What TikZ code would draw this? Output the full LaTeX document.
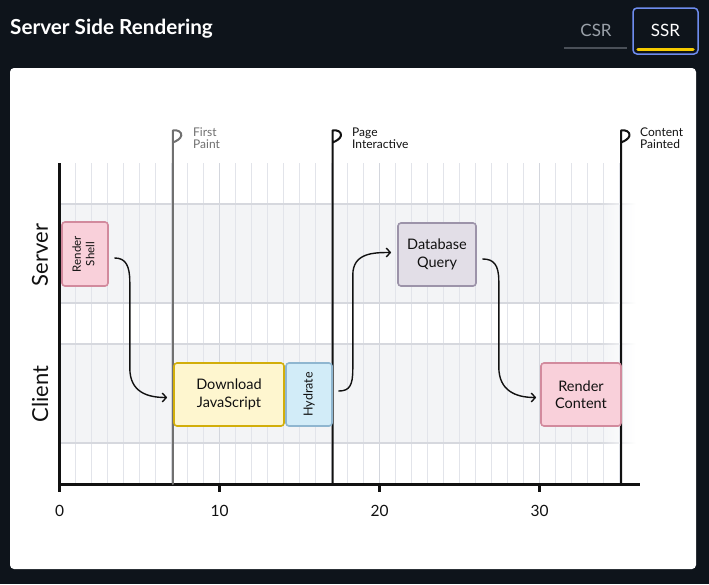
\documentclass[tikz,border=0pt]{standalone}
\usepackage{fontspec}
\setmainfont{Lato}
\usetikzlibrary{arrows.meta,calc}

\definecolor{bg}{HTML}{0E141B}
\definecolor{csrgray}{HTML}{9AA1A9}
\definecolor{csrline}{HTML}{4A5058}
\definecolor{tabblue}{HTML}{6E8CEE}
\definecolor{tabyellow}{HTML}{F5CB00}
\definecolor{gridc}{HTML}{E2E4EA}
\definecolor{gridm}{HTML}{D3D6DD}
\definecolor{bandf}{HTML}{F3F4F6}
\definecolor{bandl}{HTML}{D6D8DE}
\definecolor{ink}{HTML}{111111}
\definecolor{paintgray}{HTML}{707070}
\definecolor{pinkf}{HTML}{F9D0DA}
\definecolor{pinkd}{HTML}{D28A9D}
\definecolor{yelf}{HTML}{FEF6CF}
\definecolor{yeld}{HTML}{D2AE0A}
\definecolor{bluef}{HTML}{D2ECF8}
\definecolor{blued}{HTML}{8FB6D0}
\definecolor{lavf}{HTML}{E2DEE7}
\definecolor{lavd}{HTML}{9C93A9}

\tikzset{
  gridline/.style={draw=gridc, line width=0.8pt},
  gridmajor/.style={draw=gridm, line width=1.1pt},
  taskbox/.style={rounded corners=3pt, line width=1.6pt, inner sep=0pt,
    align=center, font=\fontsize{14.5}{17.5}\selectfont, text=ink},
  flagline/.style={line width=2pt, line join=round, line cap=round},
  flaglabel/.style={anchor=west, align=left, inner sep=0pt,
    font=\fontsize{12}{12}\selectfont},
  flow/.style={draw=ink, line width=1.4pt, line cap=round,
    -{Straight Barb[length=4pt,width=9pt,line width=1.4pt]}},
  rowlabel/.style={rotate=90, font=\fontsize{22}{26}\selectfont, text=ink},
  ticklabel/.style={font=\fontsize{15.5}{18}\selectfont, text=ink},
}

\begin{document}
\begin{tikzpicture}[x=1pt,y=-1pt]
\useasboundingbox (0,0) rectangle (709,584);
\fill[bg] (0,0) rectangle (709,584);

% header
\node[anchor=west, text=white, font=\fontsize{20.7}{24}\selectfont\bfseries, inner sep=0pt] (title) at (10,29) {Server Side Rendering};
\node[text=csrgray, font=\fontsize{17}{20}\selectfont, inner sep=0pt] (csr) at (596,30) {CSR};
\draw[csrline, line width=2pt] (564,48) -- (627,48);
\draw[tabblue, line width=1.5pt, rounded corners=4pt] (633,8) rectangle (698,54);
\node[text=white, font=\fontsize{17}{20}\selectfont, inner sep=0pt] (ssr) at (665.5,30) {SSR};
\draw[tabyellow, line width=3.5pt, line cap=round] (638,49.5) -- (693,49.5);

% panel
\fill[white, rounded corners=4pt] (10,68) rectangle (696,569);

% lane bands with a fade on the right
\foreach \top/\bot in {204/303, 344/443}{
  \fill[bandf] (60,\top) rectangle (600,\bot);
  \shade[left color=bandf, right color=white] (599.5,\top) rectangle (636,\bot);
}

% time grid
\foreach \i in {1,...,35}{
  \pgfmathsetmacro\gx{59.5+16*\i}
  \ifnum\i=10 \draw[gridmajor] (\gx,163) -- (\gx,484);
  \else\ifnum\i=20 \draw[gridmajor] (\gx,163) -- (\gx,484);
  \else\ifnum\i=30 \draw[gridmajor] (\gx,163) -- (\gx,484);
  \else \draw[gridline] (\gx,163) -- (\gx,484);
  \fi\fi\fi
}

% lane borders
\foreach \yy in {204,303,344,443}{
  \fill[bandl] (60,\yy-0.6) rectangle (600,\yy+0.6);
  \shade[left color=bandl, right color=white] (599.5,\yy-0.6) rectangle (636,\yy+0.6);
}

% lane labels
\node[rowlabel] (server) at (40,255) {Server};
\node[rowlabel] (client) at (40,394) {Client};

% axes
\draw[ink, line width=3pt] (59.5,163) -- (59.5,484) -- (640,484);
\foreach \t in {0,10,20,30}{
  \draw[ink, line width=2.5pt] ({59.5+16*\t},484) -- ({59.5+16*\t},492);
  \node[ticklabel] (tick\t) at ({59.5+16*\t},511) {\t};
}

% milestone flags
\draw[flagline, paintgray] (172.8,484) -- (172.8,130.5)
  .. controls (177.8,129.5) and (181.8,132) .. (181.3,135.5)
  .. controls (180.8,138.5) and (176.8,141) .. (172.8,142.5);
\node[flaglabel, text=paintgray] (fp) at (193,138) {First\\Paint};

\draw[flagline, ink] (332.5,484) -- (332.5,130.5)
  .. controls (337.5,129.5) and (341.5,132) .. (341,135.5)
  .. controls (340.5,138.5) and (336.5,141) .. (332.5,142.5);
\node[flaglabel, text=ink] (pi) at (352,138) {Page\\Interactive};

\draw[flagline, ink] (621,484) -- (621,130.5)
  .. controls (626,129.5) and (630,132) .. (629.5,135.5)
  .. controls (629,138.5) and (625,141) .. (621,142.5);
\node[flaglabel, text=ink] (cp) at (640,138) {Content\\Painted};

% tasks
\node[taskbox, fill=pinkf, draw=pinkd, minimum width=46pt, minimum height=64pt] (shell) at (85,254)
  {\rotatebox{90}{\fontsize{11.5}{13.5}\selectfont\begin{tabular}{@{}c@{}}Render\\Shell\end{tabular}}};
\node[taskbox, fill=yelf, draw=yeld, minimum width=110pt, minimum height=63pt] (dl) at (229,394.5)
  {Download\\JavaScript};
\node[taskbox, fill=bluef, draw=blued, minimum width=46pt, minimum height=63pt] (hyd) at (309,394.5)
  {\rotatebox{90}{\fontsize{12.5}{15}\selectfont Hydrate}};
\node[taskbox, fill=lavf, draw=lavd, minimum width=78pt, minimum height=63pt] (db) at (437,254.5)
  {Database\\Query};
\node[taskbox, fill=pinkf, draw=pinkd, minimum width=80pt, minimum height=63pt] (rc) at (581,394.5)
  {Render\\Content};

% dependencies
\draw[flow] ([xshift=6pt,yshift=-4pt]shell.east)
  .. controls +(11,0) and +(0,-16) .. ++(15,24)
  -- ++(0,86)
  .. controls +(0,24) and +(-20,0) .. ([xshift=-6pt,yshift=-3pt]dl.west);
\draw[flow] ([xshift=6pt,yshift=3.5pt]hyd.east)
  .. controls +(11,0) and +(0,16) .. ++(14,-22)
  -- ++(0,-94)
  .. controls +(0,-22) and +(-18,0) .. ([xshift=-6pt,yshift=2pt]db.west);
\draw[flow] ([xshift=6pt,yshift=-4.5pt]db.east)
  .. controls +(11,0) and +(0,-16) .. ++(16,22)
  -- ++(0,86)
  .. controls +(0,24) and +(-20,0) .. ([xshift=-4pt,yshift=-3pt]rc.west);
\end{tikzpicture}
\end{document}
